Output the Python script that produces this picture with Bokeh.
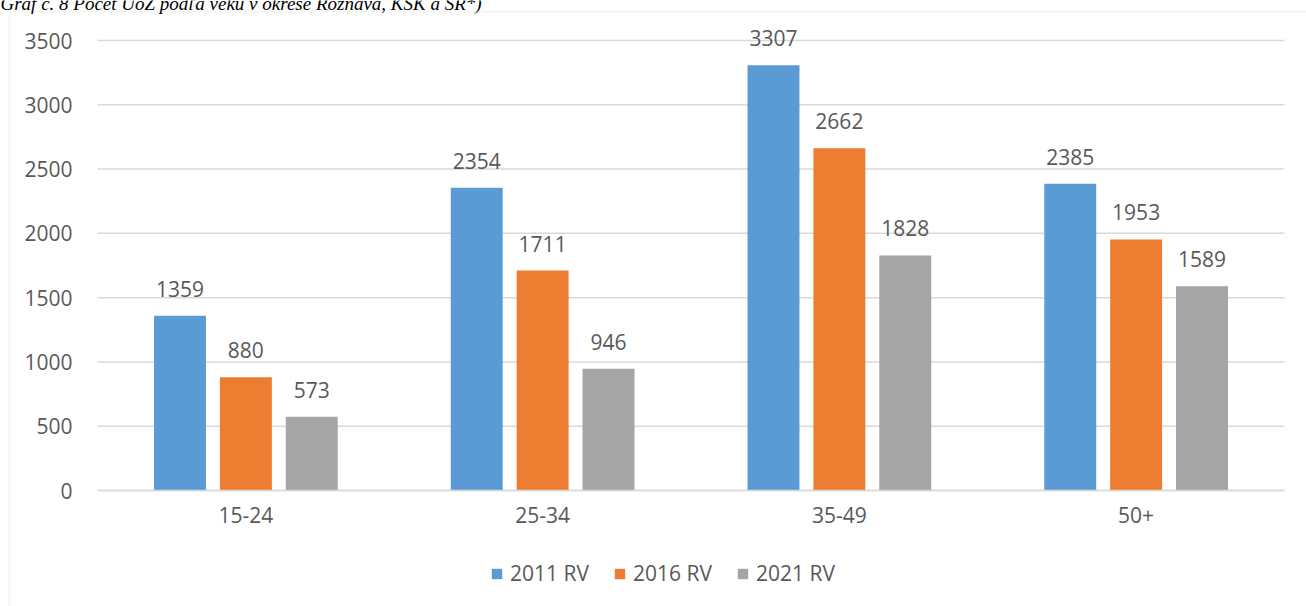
from bokeh.plotting import figure
from bokeh.models import (ColumnDataSource, Range1d, Legend, LegendItem,
                          LabelSet, Label, FixedTicker, BoxAnnotation)
from bokeh.core.properties import value
from bokeh.transform import dodge
from bokeh.embed import file_html
from bokeh.resources import INLINE

categories = ["15-24", "25-34", "35-49", "50+"]
series = ["2011 RV", "2016 RV", "2021 RV"]
v2011 = [1359, 2354, 3307, 2385]
v2016 = [880, 1711, 2662, 1953]
v2021 = [573, 946, 1828, 1589]
colors = ["#5B9BD5", "#ED7D31", "#A5A5A5"]
yticks = [0, 500, 1000, 1500, 2000, 2500, 3000, 3500]
title_text = "Graf č. 8 Počet UoZ podľa veku v okrese Rožňava, KSK a SR*)"

FONT = "Open Sans"
FS = "21px"
TXT = "#595959"
GRID = "#D9D9D9"

W, H = 1306, 606
# plot-area geometry in canvas pixels
PL, PR, PT, PB = 97, 1284, 40, 490
n = len(categories)
ux = (PR - PL) / n                 # px per category
uy = (PB - PT) / yticks[-1]        # px per unit
x_start = -0.5 - PL / ux
x_end = n - 0.5 + (W - PR) / ux
y_start = -(H - PB) / uy
y_end = yticks[-1] + PT / uy

xpos = list(range(n))
source = ColumnDataSource(data=dict(x=xpos, s0=v2011, s1=v2016, s2=v2021,
                                    l0=[str(v) for v in v2011],
                                    l1=[str(v) for v in v2016],
                                    l2=[str(v) for v in v2021]))

p = figure(x_range=Range1d(x_start, x_end), y_range=Range1d(y_start, y_end),
           width=W, height=H, output_backend="svg", toolbar_location=None,
           title_location=None,
           min_border=0, min_border_left=0, min_border_right=0,
           min_border_top=0, min_border_bottom=0)
p.outline_line_color = None
p.background_fill_color = "white"
p.border_fill_color = "white"
p.xgrid.visible = False
p.ygrid.visible = False

# horizontal gridlines across the category span
p.segment(x0=[-0.5] * len(yticks), x1=[n - 0.5] * len(yticks), y0=yticks, y1=yticks,
          line_color=GRID, line_width=1.5)

offsets = [-0.222, 0.0, 0.222]
renderers = []
for i, (off, col) in enumerate(zip(offsets, colors)):
    r = p.vbar(x=dodge("x", off), top="s%d" % i, width=0.175,
               source=source, fill_color=col, line_color=None)
    renderers.append(r)
    labels = LabelSet(x=dodge("x", off), y="s%d" % i, text="l%d" % i,
                      source=source, text_align="center", text_baseline="alphabetic",
                      y_offset=19, text_font=value(FONT), text_font_size=value(FS),
                      text_color=TXT)
    p.add_layout(labels)

# y axis
p.yaxis.fixed_location = -0.5
p.yaxis.ticker = FixedTicker(ticks=yticks)
p.yaxis.bounds = (0, yticks[-1])
p.yaxis.axis_line_color = None
p.yaxis.major_tick_line_color = None
p.yaxis.minor_tick_line_color = None
p.yaxis.major_label_text_font = FONT
p.yaxis.major_label_text_font_size = FS
p.yaxis.major_label_text_color = TXT
p.yaxis.major_label_standoff = 19

# x axis
p.xaxis.fixed_location = 0
p.xaxis.ticker = FixedTicker(ticks=xpos)
p.xaxis.major_label_overrides = {i: c for i, c in zip(xpos, categories)}
p.xaxis.bounds = (-0.5, n - 0.5)
p.xaxis.axis_line_color = GRID
p.xaxis.axis_line_width = 1.5
p.xaxis.major_tick_line_color = None
p.xaxis.minor_tick_line_color = None
p.xaxis.major_label_text_font = FONT
p.xaxis.major_label_text_font_size = FS
p.xaxis.major_label_text_color = TXT
p.xaxis.major_label_standoff = 10

legend = Legend(items=[LegendItem(label=s, renderers=[r]) for s, r in zip(series, renderers)],
                orientation="horizontal", location=(490, 19),
                glyph_width=13, glyph_height=13, label_standoff=7, spacing=24,
                padding=0, margin=0, border_line_color=None, background_fill_alpha=0,
                label_text_font=FONT, label_text_font_size=FS, label_text_color=TXT,
                label_height=20)
p.add_layout(legend, "center")

# outer chart border (left and top edges visible)
border = BoxAnnotation(left=9, right=W + 50, top=11, bottom=H + 50,
                       left_units="canvas", right_units="canvas",
                       top_units="canvas", bottom_units="canvas",
                       fill_alpha=0, line_color=GRID, line_width=2)
p.add_layout(border)

# document caption above the chart, partly cut off at the top edge as in the source
title = Label(x=0, y=3, x_units="canvas", y_units="canvas", text=title_text,
              text_font="Liberation Serif", text_font_style="italic",
              text_font_size="19px", text_color="black", text_baseline="alphabetic")
p.add_layout(title)

open("out.html", "w").write(file_html(p, INLINE))
